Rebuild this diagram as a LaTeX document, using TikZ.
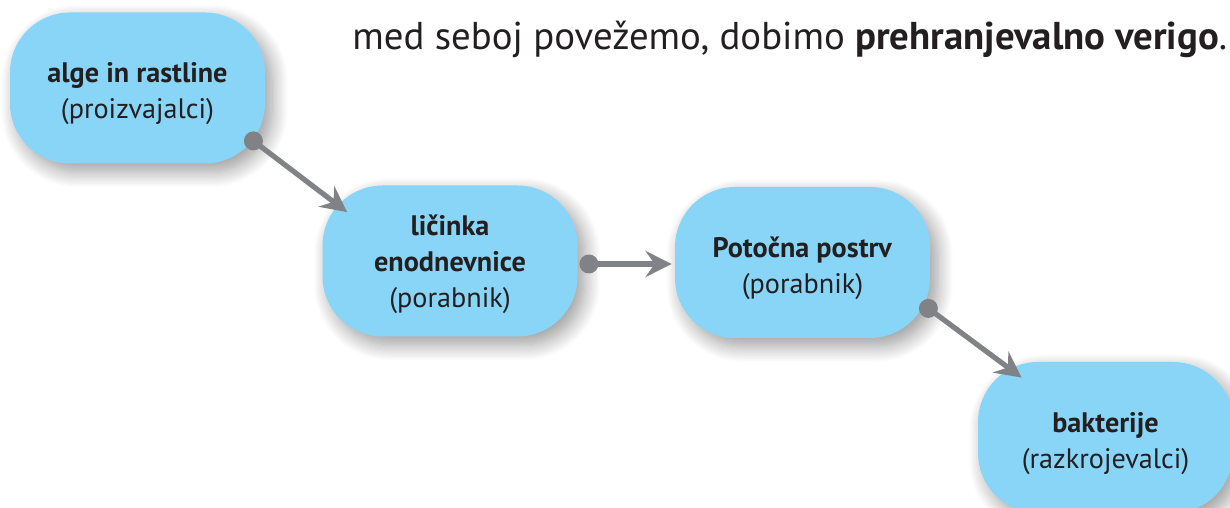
\documentclass[tikz,border=0pt]{standalone}
\usepackage{fontspec}
\setmainfont{PT Sans}
\usetikzlibrary{arrows.meta,shadows.blur,calc}
\definecolor{boxblue}{HTML}{89D5F7}
\definecolor{arrowgray}{HTML}{808285}
\definecolor{txt}{HTML}{231F20}
\begin{document}
\begin{tikzpicture}[
  foodbox/.style={rectangle, rounded corners=30pt, fill=boxblue,
    minimum width=127.5pt, minimum height=75.5pt, inner sep=0pt,
    blur shadow={shadow xshift=3.5pt, shadow yshift=-4pt, shadow blur radius=8pt, shadow blur steps=14, shadow opacity=40}},
  boxtext/.style={align=center, text=txt, font=\fontsize{14.1}{18}\selectfont, inner sep=0pt, yshift=-3pt},
  flow/.style={draw=arrowgray, line width=2.6pt,
    -{Stealth[length=13pt,width=13pt,inset=4.5pt]}},
  dotmark/.style={circle, fill=arrowgray, minimum size=9.5pt, inner sep=0pt}
]
\useasboundingbox (0,0) rectangle (615pt,254pt);
\clip (0,0) rectangle (615pt,254pt);
\node[anchor=base west, text=txt, font=\fontsize{19.4}{22}\selectfont, inner sep=0pt] (intro) at (176pt,229pt)
  {med seboj povežemo, dobimo \textbf{prehranjevalno verigo}.};
\node[foodbox] (b1) at (68.75pt,210pt) {};
\node[foodbox] (b2) at (225pt,123.5pt) {};
\node[foodbox] (b3) at (401.25pt,122.75pt) {};
\node[foodbox] (b4) at (552.75pt,35.25pt) {};
\node[boxtext] (b1t) at (b1) {\textbf{alge in rastline}\\(proizvajalci)};
\node[boxtext, yshift=1.5pt] (b2t) at (b2) {\textbf{ličinka}\\\textbf{enodnevnice}\\(porabnik)};
\node[boxtext] (b3t) at (b3) {\textbf{Potočna postrv}\\(porabnik)};
\node[boxtext] (b4t) at (b4) {\textbf{bakterije}\\(razkrojevalci)};
\coordinate (d1) at ($(b1.south east)+(-6pt,11.5pt)$);
\coordinate (t1) at ($(b2.north west)+(12.5pt,-13.5pt)$);
\coordinate (d2) at ($(b2.east)+(5.5pt,-1.5pt)$);
\coordinate (t2) at ($(b3.west)+(-1.5pt,-0.75pt)$);
\coordinate (d3) at ($(b3.south east)+(-1pt,15pt)$);
\coordinate (t3) at ($(b4.north west)+(22pt,-8pt)$);
\draw[flow] (d1) -- (t1);
\draw[flow] (d2) -- (t2);
\draw[flow] (d3) -- (t3);
\node[dotmark] (m1) at (d1) {};
\node[dotmark] (m2) at (d2) {};
\node[dotmark] (m3) at (d3) {};
\end{tikzpicture}
\end{document}
